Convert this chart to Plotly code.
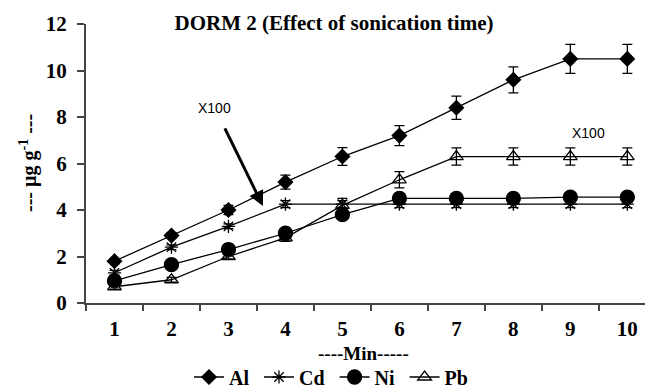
import plotly.graph_objects as go

minutes = ["1", "2", "3", "4", "5", "6", "7", "8", "9", "10"]
al = [1.8, 2.9, 4.0, 5.2, 6.3, 7.2, 8.4, 9.6, 10.5, 10.5]
al_err = [0.1, 0.12, 0.2, 0.3, 0.38, 0.43, 0.5, 0.56, 0.62, 0.62]
cd = [1.3, 2.4, 3.3, 4.25, 4.25, 4.25, 4.25, 4.25, 4.25, 4.25]
cd_err = [0.1, 0.1, 0.1, 0.15, 0.15, 0.15, 0.15, 0.15, 0.15, 0.15]
ni = [0.95, 1.65, 2.3, 3.0, 3.8, 4.5, 4.5, 4.5, 4.55, 4.55]
ni_err = [0.1, 0.1, 0.1, 0.1, 0.15, 0.2, 0.2, 0.2, 0.2, 0.2]
pb = [0.7, 1.0, 2.0, 2.8, 4.2, 5.3, 6.3, 6.3, 6.3, 6.3]
pb_err = [0.1, 0.1, 0.1, 0.15, 0.3, 0.35, 0.37, 0.37, 0.37, 0.37]

FONT = "Liberation Serif, Times New Roman, serif"
SANS = "Liberation Sans, Arial, sans-serif"

fig = go.Figure()

def add(name, y, err, symbol, size):
    fig.add_trace(go.Scatter(
        x=minutes, y=y, name=name, mode="lines+markers",
        line=dict(color="black", width=1.3),
        marker=dict(symbol=symbol, size=size, color="black",
                    line=dict(color="black", width=1.3)),
        error_y=dict(type="data", array=err, visible=True, color="black",
                     thickness=1.3, width=5),
    ))

add("Al&nbsp;", al, al_err, "diamond", 11)
add("Cd&nbsp;", cd, cd_err, "asterisk-open", 11)
add("Ni&nbsp;", ni, ni_err, "circle", 14)
add("Pb", pb, pb_err, "triangle-up-open", 12)

fig.update_layout(
    width=645, height=390,
    margin=dict(l=86, r=0, t=24, b=87, autoexpand=False),
    paper_bgcolor="white", plot_bgcolor="white",
    font=dict(family=FONT, color="black"),
    showlegend=True,
    legend=dict(orientation="h", x=(331 - 86) / 559, xanchor="center",
                y=1 - 377 / 390, yref="container", yanchor="middle",
                font=dict(family=FONT, size=20, color="black", weight="bold"),
                itemwidth=30, tracegroupgap=0, bgcolor="rgba(0,0,0,0)"),
    title=dict(text="<b>DORM 2 (Effect of sonication time)</b>",
               x=(334 - 86) / 559, xanchor="center", xref="paper",
               y=1 - 23 / 390, yref="container", yanchor="middle",
               font=dict(family=FONT, size=21, color="black")),
)

fig.update_xaxes(
    type="category", range=[-0.5, 9.31], automargin=False,
    showline=True, linecolor="#444", linewidth=2,
    ticks="outside", tickson="boundaries", ticklen=6, tickcolor="#444", tickwidth=1.5,
    ticklabelstandoff=6,
    showgrid=False, zeroline=False,
    tickfont=dict(family=FONT, size=21, color="black", weight="bold"),
)
fig.update_yaxes(
    range=[0, 12], tickvals=[0, 2, 4, 6, 8, 10, 12], automargin=False,
    showline=True, linecolor="#444", linewidth=2,
    ticks="outside", ticklen=7, tickcolor="#444", tickwidth=1.5,
    ticklabelstandoff=6,
    showgrid=False, zeroline=False,
    tickfont=dict(family=FONT, size=21, color="black", weight="bold"),
)

fig.add_annotation(text="<b>----Min-----</b>", xref="paper", yref="paper",
                   x=(363 - 86) / 559, y=(303 - 353) / 279, xanchor="center", yanchor="middle",
                   showarrow=False, font=dict(family=FONT, size=19, color="black"))

fig.add_annotation(text="<b>--- µg g<sup>-1</sup> ---</b>", xref="paper", yref="paper",
                   x=0, y=(303 - 163) / 279, xanchor="center", yanchor="middle", xshift=-58,
                   textangle=-90, showarrow=False,
                   font=dict(family=FONT, size=20, color="black"))

fig.add_annotation(text="X100", x=2.605, y=4.17, xref="x", yref="y", showarrow=True,
                   ax=-48, ay=-98, arrowhead=2, arrowsize=1, arrowwidth=3, arrowcolor="black",
                   startstandoff=12,
                   font=dict(family=SANS, size=14, color="black"))
fig.add_annotation(text="X100", x=8.31, y=7.31, xref="x", yref="y", showarrow=False,
                   font=dict(family=SANS, size=14, color="black"))

fig.write_html("out.html")
